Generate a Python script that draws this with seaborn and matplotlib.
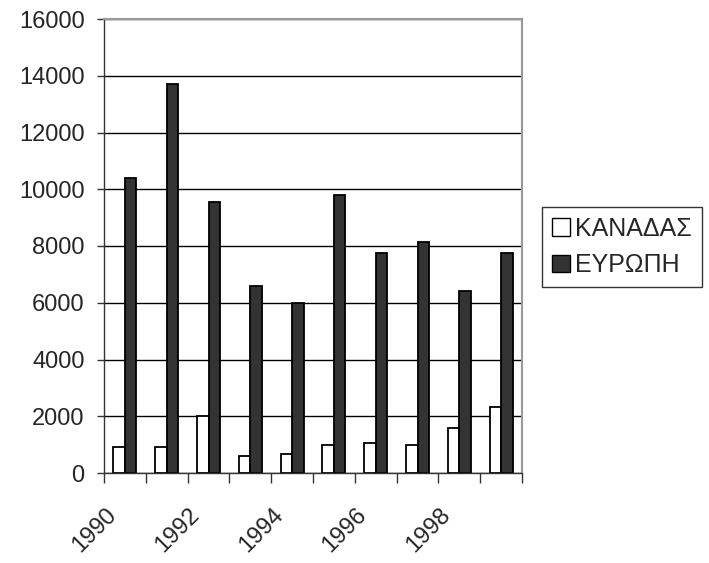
import matplotlib
matplotlib.use("Agg")
import matplotlib.pyplot as plt
import matplotlib.transforms as mtransforms
import seaborn as sns
import pandas as pd
import numpy as np
from matplotlib.ticker import FixedLocator, MultipleLocator

years = [1990, 1991, 1992, 1993, 1994, 1995, 1996, 1997, 1998, 1999]
canada = [920, 920, 2020, 600, 680, 1000, 1070, 1000, 1600, 2330]
europe = [10400, 13700, 9550, 6600, 6000, 9800, 7750, 8150, 6420, 7750]
series_names = ["ΚΑΝΑΔΑΣ", "ΕΥΡΩΠΗ"]
tick_labels = ["1990", "", "1992", "", "1994", "", "1996", "", "1998", ""]

df = pd.DataFrame({
    "year": [str(y) for y in years] * 2,
    "value": canada + europe,
    "series": [series_names[0]] * len(years) + [series_names[1]] * len(years),
})

sns.set_style("white")
plt.rcParams["font.family"] = ["Liberation Sans", "DejaVu Sans"]

fig = plt.figure(figsize=(7.09, 5.63), dpi=100)
ax = fig.add_axes([104 / 709, 1 - 473 / 563, (522 - 104) / 709, (473 - 19) / 563])

sns.barplot(data=df, x="year", y="value", hue="series",
            palette=["#ffffff", "#333333"], edgecolor="black", linewidth=1.3,
            width=0.55, ax=ax, legend=True)

ax.set_xlim(-0.5, len(years) - 0.5)
ax.set_ylim(0, 16000)
ax.yaxis.set_major_locator(MultipleLocator(2000))
ax.grid(axis="y", color="black", linewidth=1.0)
ax.set_axisbelow(True)
ax.set_xlabel("")
ax.set_ylabel("")

for s in ["left", "bottom"]:
    ax.spines[s].set_color("#333333")
    ax.spines[s].set_linewidth(1.0)
for s in ["top", "right"]:
    ax.spines[s].set_color("#999999")
    ax.spines[s].set_linewidth(1.5)

ax.tick_params(axis="y", which="major", left=True, length=5, width=1, color="#333333",
               labelsize=17, pad=9)
ax.set_xticks(range(len(years)))
ax.set_xticklabels(tick_labels, rotation=45, ha="right", va="center",
                   rotation_mode="anchor", fontsize=17)
ax.tick_params(axis="x", which="major", bottom=True, length=0, pad=28)
ax.xaxis.set_minor_locator(FixedLocator(np.arange(-0.5, len(years), 1.0)))
ax.tick_params(axis="x", which="minor", bottom=True, length=7, width=1, color="#333333")
shift = mtransforms.ScaledTranslation(-12 / 100, 0, fig.dpi_scale_trans)
for lab in ax.get_xticklabels():
    lab.set_transform(lab.get_transform() + shift)

leg = ax.legend(loc="center left", bbox_to_anchor=(542 / 709, 1 - 247 / 563),
                bbox_transform=fig.transFigure, frameon=True, fancybox=False,
                fontsize=18, handlelength=0.72, handleheight=0.72, handletextpad=0.2,
                borderpad=0.4, labelspacing=0.5, borderaxespad=0)
leg.get_frame().set_edgecolor("black")
leg.get_frame().set_linewidth(1.0)
for h in leg.legend_handles:
    h.set_edgecolor("black")
    h.set_linewidth(1.0)

fig.savefig("out.png", dpi=100)
